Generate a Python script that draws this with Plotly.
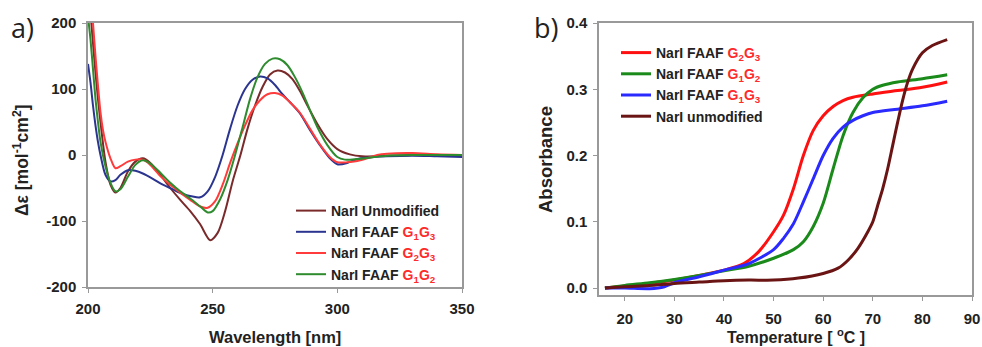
import plotly.graph_objects as go

# ---------- Panel a) CD spectra ----------
wl_unmod = [200, 201, 202, 203, 204, 205, 207, 209, 211, 213, 216, 219, 222, 225, 229, 233, 237, 241, 245, 249, 252, 255, 258, 261, 264, 267, 270, 273, 276, 279, 282, 285, 288, 292, 296, 300, 305, 310, 320, 330, 340, 350]
cd_unmod = [260, 215, 170, 125, 85, 50, -10, -45, -57, -50, -25, -10, -5, -12, -30, -50, -68, -85, -105, -129, -118, -85, -40, -2, 40, 75, 103, 122, 128, 125, 115, 97, 75, 47, 24, 9, 1, -2, -1, 0, 0, 0]

wl_g1g3 = [200, 201, 202, 203, 204, 205, 207, 209, 211, 213, 216, 219, 222, 226, 230, 234, 238, 242, 245, 248, 251, 254, 257, 260, 263, 266, 269, 272, 275, 278, 281, 285, 289, 293, 297, 300, 304, 308, 312, 320, 330, 340, 350]
cd_g1g3 = [138, 110, 75, 45, 20, 0, -30, -40, -38, -30, -23, -24, -28, -36, -45, -52, -59, -63, -64, -55, -33, 0, 40, 75, 100, 114, 119, 116, 106, 92, 80, 63, 38, 15, -5, -14, -12, -6, -4, -2, -1, -2, -3]

wl_g2g3 = [200, 201, 202, 203, 204, 205, 206, 207, 209, 211, 213, 216, 219, 222, 225, 229, 233, 237, 241, 245, 248, 251, 254, 257, 260, 263, 266, 269, 272, 275, 278, 281, 285, 289, 293, 297, 300, 304, 308, 312, 316, 320, 330, 340, 350]
cd_g2g3 = [280, 250, 200, 150, 105, 65, 38, 20, -5, -20, -17, -10, -7, -7, -15, -32, -45, -57, -68, -78, -80, -70, -45, -12, 18, 45, 68, 83, 92, 94, 90, 80, 64, 40, 16, -3, -11, -11, -9, -5, 0, 2, 3, 1, 0]

wl_g1g2 = [200, 201, 202, 203, 204, 205, 207, 209, 211, 213, 216, 219, 222, 225, 229, 233, 237, 241, 245, 248, 250, 253, 256, 259, 262, 265, 268, 271, 274, 277, 280, 283, 286, 289, 292, 296, 300, 303, 308, 315, 320, 330, 340, 350]
cd_g1g2 = [210, 175, 130, 85, 50, 20, -17, -42, -55, -52, -33, -15, -8, -13, -27, -42, -55, -66, -78, -87, -85, -67, -38, 0, 42, 85, 118, 138, 146, 145, 136, 118, 95, 68, 42, 15, -3, -7, -6, -3, -1, 0, 0, 0]

wl_ticks = [200, 250, 300, 350]
cd_ticks = [-200, -100, 0, 100, 200]

# ---------- Panel b) melting curves ----------
t_g2g3 = [16, 20, 25, 30, 35, 40, 44, 47, 50, 52, 54, 56, 58, 60, 62, 64, 66, 70, 75, 80, 85]
a_g2g3 = [0, 0.003, 0.007, 0.012, 0.019, 0.027, 0.037, 0.055, 0.085, 0.11, 0.15, 0.2, 0.238, 0.26, 0.274, 0.283, 0.288, 0.293, 0.298, 0.303, 0.311]

t_g1g2 = [16, 20, 25, 30, 35, 40, 45, 50, 54, 56, 58, 60, 62, 64, 66, 68, 70, 72, 75, 80, 85]
a_g1g2 = [0, 0.004, 0.008, 0.013, 0.019, 0.026, 0.033, 0.045, 0.058, 0.07, 0.093, 0.128, 0.18, 0.23, 0.265, 0.287, 0.3, 0.306, 0.311, 0.316, 0.322]

t_g1g3 = [16, 20, 25, 28, 30, 35, 40, 45, 50, 52, 54, 56, 58, 60, 62, 64, 66, 68, 70, 75, 80, 85]
a_g1g3 = [0, 0, -0.001, 0.002, 0.008, 0.017, 0.027, 0.037, 0.058, 0.075, 0.097, 0.13, 0.165, 0.2, 0.226, 0.243, 0.253, 0.26, 0.265, 0.27, 0.275, 0.282]

t_unmod = [16, 20, 25, 30, 35, 40, 45, 50, 55, 60, 63, 65, 67, 69, 70, 71, 72, 73, 74, 75, 76, 77, 78, 80, 82, 85]
a_unmod = [0, 0.002, 0.004, 0.007, 0.009, 0.011, 0.012, 0.012, 0.015, 0.022, 0.03, 0.042, 0.06, 0.085, 0.1, 0.125, 0.15, 0.18, 0.215, 0.25, 0.283, 0.31, 0.33, 0.355, 0.366, 0.375]

t_ticks = [20, 30, 40, 50, 60, 70, 80, 90]
a_ticks = [0.0, 0.1, 0.2, 0.3, 0.4]

RED_TXT = "#ff2a2a"
def lab(pre, g):
    return f"{pre}<span style='color:{RED_TXT}'>{g}</span>"

G1G3 = "G<sub>1</sub>G<sub>3</sub>"
G2G3 = "G<sub>2</sub>G<sub>3</sub>"
G1G2 = "G<sub>1</sub>G<sub>2</sub>"

FONT = "Arial, Liberation Sans, sans-serif"
W, H = 982, 347

fig = go.Figure()

left = [
    (wl_unmod, cd_unmod, "#7a2a2a", "NarI Unmodified"),
    (wl_g1g3, cd_g1g3, "#2b3590", lab("NarI FAAF ", G1G3)),
    (wl_g2g3, cd_g2g3, "#ff3b3b", lab("NarI FAAF ", G2G3)),
    (wl_g1g2, cd_g1g2, "#2e8b2e", lab("NarI FAAF ", G1G2)),
]
for x, y, c, name in left:
    fig.add_trace(go.Scatter(x=x, y=y, mode="lines", name=name,
                             line=dict(color=c, width=2, shape="spline", smoothing=0.8),
                             xaxis="x", yaxis="y", legend="legend"))

right = [
    (t_g2g3, a_g2g3, "#ff1010", lab("NarI FAAF ", G2G3)),
    (t_g1g2, a_g1g2, "#1a8a1a", lab("NarI FAAF ", G1G2)),
    (t_g1g3, a_g1g3, "#2a2aff", lab("NarI FAAF ", G1G3)),
    (t_unmod, a_unmod, "#6a1414", "NarI unmodified"),
]
for x, y, c, name in right:
    fig.add_trace(go.Scatter(x=x, y=y, mode="lines", name=name,
                             line=dict(color=c, width=3, shape="spline", smoothing=0.8),
                             xaxis="x2", yaxis="y2", legend="legend2"))

def bold(vals, fmt):
    return ["<b>" + fmt(v).replace("\u2212", "-") + "</b>" for v in vals]

tickfont = dict(family=FONT, size=15, color="#222", weight="bold")
axcommon = dict(showgrid=False, zeroline=False, showline=True, linecolor="#999",
                linewidth=1.5, mirror=True, ticks="outside", ticklen=4, tickcolor="#999",
                tickfont=tickfont, automargin=False)

fig.update_layout(
    width=W, height=H,
    margin=dict(l=0, r=0, t=0, b=0),
    paper_bgcolor="white", plot_bgcolor="white",
    font=dict(family=FONT),
    xaxis=dict(domain=[88 / W, 462 / W], range=[200, 350], tickvals=wl_ticks,
               ticktext=bold(wl_ticks, lambda v: f"{v}"), ticklabelstandoff=3, anchor="y", **axcommon),
    yaxis=dict(domain=[1 - 287 / H, 1 - 23 / H], range=[-200, 200], tickvals=cd_ticks,
               ticktext=bold(cd_ticks, lambda v: f"{v}"), ticklabelstandoff=3, anchor="x", **axcommon),
    xaxis2=dict(domain=[599 / W, 972 / W], range=[14.8, 90], tickvals=t_ticks,
                ticktext=bold(t_ticks, lambda v: f"{v}"), ticklabelstandoff=5, anchor="y2", **axcommon),
    yaxis2=dict(domain=[1 - 295 / H, 1 - 23 / H], range=[-0.0105, 0.4], tickvals=a_ticks,
                ticktext=bold(a_ticks, lambda v: f"{v:.1f}"), ticklabelstandoff=3, anchor="x2", **axcommon),
    legend=dict(x=291 / W, y=1 - 195 / H, xanchor="left", yanchor="top", bgcolor="rgba(0,0,0,0)",
                font=dict(family=FONT, size=14, color="#222", weight="bold"), itemwidth=30, tracegroupgap=0),
    legend2=dict(x=616 / W, y=1 - 37 / H, xanchor="left", yanchor="top", bgcolor="rgba(0,0,0,0)",
                 font=dict(family=FONT, size=14, color="#222", weight="bold"), itemwidth=30, tracegroupgap=0),
    showlegend=True,
)

ann = [
    dict(text="a)", x=9, y=28, size=27, weight="normal", angle=0, anchor="left"),
    dict(text="b)", x=532, y=28, size=27, weight="normal", angle=0, anchor="left"),
    dict(text="<b>Wavelength [nm]</b>", x=275, y=337, size=16.5, weight="bold", angle=0, anchor="center"),
    dict(text="<b>Temperature [ <sup>o</sup>C ]</b>", x=796, y=336, size=16, weight="bold", angle=0, anchor="center"),
    dict(text="<b>Δε [mol<sup>-1</sup>cm<sup>2</sup>]</b>", x=21, y=160, size=17.5, weight="bold", angle=-90, anchor="center"),
    dict(text="<b>Absorbance</b>", x=545, y=160, size=18.5, weight="bold", angle=-90, anchor="center"),
]
for a in ann:
    fam = "Open Sans, sans-serif" if a["anchor"] == "left" else FONT
    fig.add_annotation(text=a["text"], x=a["x"] / W, y=1 - a["y"] / H, xref="paper", yref="paper",
                       showarrow=False, textangle=a["angle"],
                       xanchor=a["anchor"], yanchor="middle",
                       font=dict(family=fam, size=a["size"], color="#222", weight=a["weight"]))

fig.write_html("out.html", config={"displayModeBar": False},
               post_script="document.body.style.margin='0px';")
